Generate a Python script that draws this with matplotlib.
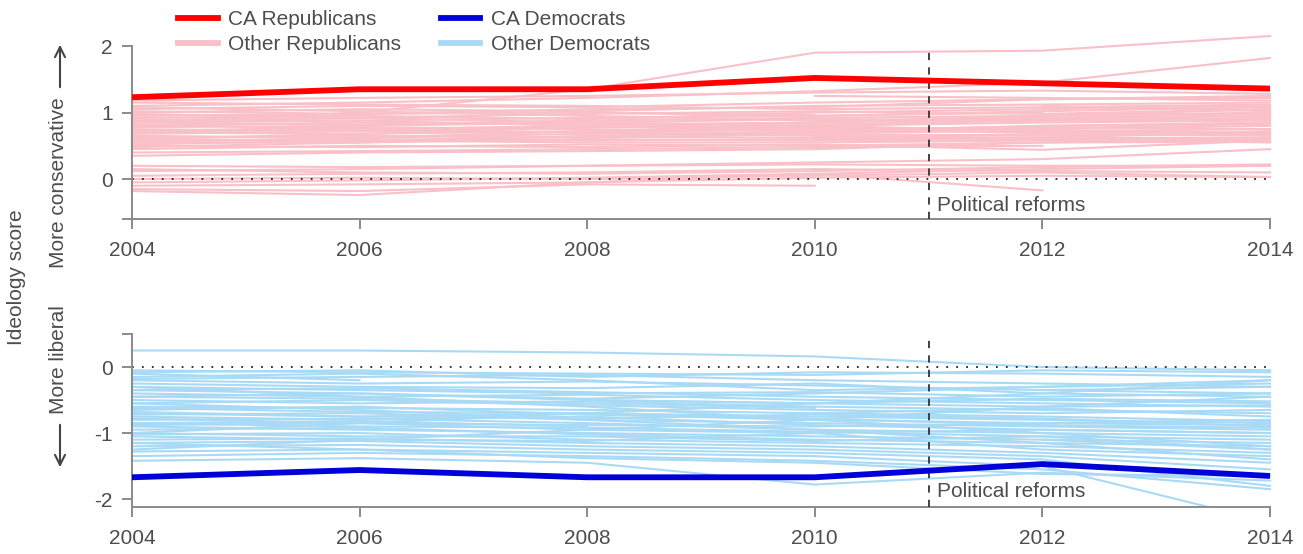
import numpy as np
import matplotlib
matplotlib.use("Agg")
import matplotlib.pyplot as plt
from matplotlib.lines import Line2D

nan = np.nan
years = [2004, 2006, 2008, 2010, 2012, 2014]
reform_year = 2011

# California delegation averages
ca_rep = [1.23, 1.35, 1.35, 1.52, 1.44, 1.36]
ca_dem = [-1.67, -1.56, -1.67, -1.67, -1.47, -1.65]

# other state delegations, one row per state (nan = no data that year)
other_rep = [
    [1.18, 1.22, 1.25, 1.30, 1.33, 1.28],
    [1.10, 1.15, 1.22, 1.32, 1.45, 1.82],
    [0.85, 1.00, 1.35, 1.90, 1.93, 2.15],
    [1.05, 1.10, 1.08, 1.15, 1.20, 1.25],
    [1.00, 1.05, 1.02, 1.10, 1.12, 1.15],
    [0.95, 0.98, 1.05, 1.08, 1.20, 1.22],
    [0.92, 0.95, 0.90, 1.00, 1.05, 1.10],
    [0.88, 0.92, 0.98, 1.02, 0.98, 1.05],
    [0.85, 0.82, 0.88, 0.92, 0.95, 1.00],
    [0.80, 0.85, 0.82, 0.85, 0.90, 0.95],
    [0.78, 0.80, 0.85, 0.90, 0.88, 0.92],
    [0.75, 0.72, 0.78, 0.80, 0.85, 0.88],
    [0.72, 0.78, 0.75, 0.72, 0.80, 0.82],
    [0.70, 0.68, 0.72, 0.78, 0.75, 0.80],
    [0.68, 0.72, 0.70, 0.75, 0.78, 0.75],
    [0.65, 0.62, 0.68, 0.70, 0.72, 0.70],
    [0.62, 0.65, 0.62, 0.68, 0.65, 0.68],
    [0.60, 0.58, 0.64, 0.62, 0.68, 0.65],
    [0.58, 0.60, 0.58, 0.60, 0.62, 0.62],
    [0.55, 0.55, 0.60, 0.58, 0.60, 0.60],
    [0.52, 0.58, 0.55, 0.55, 0.58, 0.58],
    [0.50, 0.48, 0.52, 0.50, 0.55, 0.56],
    [0.45, 0.50, 0.48, 0.52, 0.44, 0.58],
    [0.40, 0.42, 0.45, 0.48, 0.50, nan],
    [0.35, 0.40, 0.42, 0.45, 0.55, 0.60],
    [1.08, 1.02, 0.95, 0.88, 0.92, 0.98],
    [0.98, 0.92, 0.85, 0.80, 0.72, 0.75],
    [0.90, 0.88, 0.80, 0.75, 0.70, 0.68],
    [0.82, 0.75, 0.70, 0.65, 0.62, 0.72],
    [0.60, 0.68, 0.78, 0.85, 0.95, 1.05],
    [0.55, 0.62, 0.72, 0.82, 0.88, 0.90],
    [0.48, 0.55, 0.65, 0.70, 0.80, 0.85],
    [1.15, 1.12, 1.10, 1.05, 1.08, 1.12],
    [nan, nan, 1.00, 0.95, 1.02, 1.08],
    [nan, nan, nan, 1.25, 1.22, 1.18],
    [nan, nan, nan, 0.65, 0.60, 0.55],
    [nan, nan, nan, nan, 0.75, 0.85],
    [nan, nan, nan, nan, 1.10, 1.02],
    [1.02, 0.98, 1.00, 0.96, nan, nan],
    [0.70, 0.75, 0.80, nan, nan, nan],
    [0.85, 0.88, 0.92, 0.95, 1.00, nan],
    [0.20, 0.18, 0.20, 0.22, 0.20, 0.20],
    [0.12, 0.15, 0.20, 0.25, 0.30, 0.45],
    [0.05, 0.08, 0.10, 0.15, 0.12, 0.10],
    [-0.05, -0.02, 0.02, 0.08, 0.15, 0.20],
    [-0.10, -0.08, -0.05, 0.08, -0.17, nan],
    [-0.15, -0.18, -0.08, -0.10, nan, nan],
    [-0.18, -0.24, -0.05, 0.02, 0.05, 0.03],
    [0.00, 0.02, 0.00, 0.05, 0.10, 0.03],
    [0.15, 0.10, 0.08, 0.12, 0.18, 0.22],
]

other_dem = [
    [0.25, 0.25, 0.22, 0.16, 0.00, -0.05],
    [-0.05, -0.08, -0.10, -0.12, -0.05, -0.08],
    [-0.08, -0.05, -0.15, -0.08, -0.10, -0.15],
    [-0.10, -0.20, nan, nan, nan, nan],
    [-0.15, -0.10, -0.20, -0.35, -0.30, -0.25],
    [-0.20, -0.25, -0.22, -0.28, -0.35, -0.30],
    [-0.25, -0.30, -0.32, -0.25, -0.40, -0.45],
    [-0.30, -0.35, -0.40, -0.38, -0.45, -0.40],
    [-0.35, -0.32, -0.38, -0.45, -0.50, -0.55],
    [-0.40, -0.45, -0.42, -0.50, -0.55, -0.60],
    [-0.45, -0.40, -0.50, -0.55, -0.48, -0.52],
    [-0.50, -0.55, -0.52, -0.60, -0.65, -0.70],
    [-0.55, -0.50, -0.58, -0.65, -0.70, -0.65],
    [-0.60, -0.62, -0.65, -0.70, -0.62, -0.75],
    [-0.62, -0.68, -0.70, -0.75, -0.80, -0.85],
    [-0.65, -0.60, -0.72, -0.80, -0.85, -0.80],
    [-0.70, -0.75, -0.78, -0.72, -0.78, -0.90],
    [-0.72, -0.70, -0.80, -0.85, -0.90, -0.95],
    [-0.75, -0.80, -0.75, -0.88, -0.95, -1.00],
    [-0.78, -0.85, -0.88, -0.90, -0.85, -0.88],
    [-0.80, -0.78, -0.85, -0.95, -1.00, -1.05],
    [-0.85, -0.90, -0.92, -0.98, -1.05, -1.10],
    [-0.88, -0.85, -0.95, -1.00, -0.95, -1.00],
    [-0.90, -0.95, -1.00, -1.05, -1.10, -1.15],
    [-0.95, -0.92, -1.02, -1.10, -1.15, -1.20],
    [-1.00, -1.05, -1.05, -1.12, -1.05, -1.25],
    [-1.02, -1.00, -1.10, -1.15, -1.20, -1.30],
    [-1.05, -1.10, -1.12, -1.00, -1.25, -1.35],
    [-1.10, -1.08, -1.15, -1.20, -1.30, -1.45],
    [-1.15, -1.12, -1.20, -1.25, -1.35, -1.55],
    [-1.20, -1.18, -1.25, -1.30, -1.40, -1.80],
    [-1.28, -1.25, -1.30, -1.35, -1.50, -2.35],
    [-1.35, -1.30, -1.35, -1.42, -1.55, -1.85],
    [-1.42, -1.38, -1.45, -1.78, -1.60, -1.72],
    [-0.30, -0.45, -0.60, -0.80, -1.00, -1.20],
    [-1.00, -0.85, -0.70, -0.55, -0.40, -0.20],
    [-0.55, -0.65, -0.80, -0.95, -1.15, -1.40],
    [-1.25, -1.10, -0.95, -0.80, -0.60, -0.45],
    [-0.18, -0.15, -0.12, -0.20, -0.25, -0.30],
    [nan, nan, -0.50, -0.55, -0.60, -0.58],
    [nan, nan, nan, -0.70, -0.75, -0.82],
    [nan, nan, nan, nan, -0.35, -0.40],
    [nan, nan, nan, nan, -1.10, -1.25],
    [-0.45, -0.48, -0.55, -0.62, nan, nan],
    [-0.85, -0.82, -0.90, nan, nan, nan],
    [-1.15, -1.25, -1.38, -1.45, -1.62, -1.65],
    [-0.68, -0.75, -0.70, -0.78, -0.88, -0.92],
    [-0.35, -0.40, -0.48, -0.40, -0.30, -0.20],
]

RED, PINK = "#ff0000", "#f9c0c8"
BLUE, LBLUE = "#0000d8", "#a9daf5"
TXT, AXC = "#4d4d4d", "#8a8a8a"

plt.rcParams["font.family"] = ["Liberation Sans", "DejaVu Sans"]
W, H = 1303, 554
fig = plt.figure(figsize=(W / 100, H / 100), dpi=100)


def px_axes(left, top, right, bottom):
    return fig.add_axes([left / W, 1 - bottom / H, (right - left) / W, (bottom - top) / H])


def style(ax, ylim, yticks, ylabels, ybounds):
    ax.set_xlim(2003.98, 2014.02)
    ax.set_ylim(*ylim)
    ax.patch.set_visible(False)
    for s in ["top", "right"]:
        ax.spines[s].set_visible(False)
    ax.spines["left"].set_position(("data", 2004))
    ax.spines["left"].set_bounds(*ybounds)
    ax.spines["bottom"].set_bounds(2004, 2014)
    for s in ["left", "bottom"]:
        ax.spines[s].set_color(AXC)
        ax.spines[s].set_linewidth(1.4)
    ax.set_xticks(range(2004, 2015, 2))
    ax.set_yticks(yticks)
    ax.set_yticklabels(ylabels)
    ax.tick_params(direction="out", length=7, width=1.4, colors=AXC,
                   labelcolor=TXT, labelsize=15)
    ax.tick_params(axis="x", pad=9)
    ax.tick_params(axis="y", pad=7)


def panel(ax, others, thin_color, ca, ca_color, dash_top, label_y):
    for row in others:
        ax.plot(years, row, color=thin_color, lw=1.5, zorder=1)
    ax.plot([2004, 2014], [0, 0], color="#222222", lw=1.3, ls=(0, (1, 4.5)), zorder=2)
    ax.plot([reform_year, reform_year], [ax.get_ylim()[0], dash_top],
            color="#333333", lw=1.3, ls=(0, (4, 4)), zorder=3, clip_on=False)
    ax.plot(years, ca, color=ca_color, lw=4.2, zorder=4, solid_capstyle="butt")
    ax.text(reform_year + 0.07, label_y, "Political reforms", fontsize=15,
            color=TXT, va="center", ha="left")


# Republicans
ax1 = px_axes(129.7, 32.7, 1272.3, 219)
style(ax1, (-0.6, 2.2), [-0.6, 0, 1, 2], ["", "0", "1", "2"], (-0.6, 2))
panel(ax1, other_rep, PINK, ca_rep, RED, 1.91, -0.39)

# Democrats
ax2 = px_axes(129.7, 330.7, 1272.3, 507)
style(ax2, (-2.12, 0.55), [0.5, 0, -1, -2], ["", "0", "-1", "-2"], (-2.12, 0.5))
panel(ax2, other_dem, LBLUE, ca_dem, BLUE, 0.41, -1.89)

# legend across the top
handles = [Line2D([], [], color=RED, lw=4.2), Line2D([], [], color=PINK, lw=4.2),
           Line2D([], [], color=BLUE, lw=4.2), Line2D([], [], color=LBLUE, lw=4.2)]
labels = ["CA Republicans", "Other Republicans", "CA Democrats", "Other Democrats"]
leg = fig.legend(handles, labels, ncol=2, loc="upper left",
                 bbox_to_anchor=(178 / W, 1 - 10 / H), frameon=False, fontsize=15,
                 handlelength=1.9, handletextpad=0.5, columnspacing=1.9,
                 labelspacing=0.3, borderpad=0, borderaxespad=0)
for t in leg.get_texts():
    t.set_color(TXT)

# side labels
fig.text(17 / W, 1 - 277 / H, "Ideology score", rotation=90, fontsize=15,
         color=TXT, ha="center", va="center")
fig.text(59 / W, 1 - 183 / H, "More conservative", rotation=90, fontsize=15,
         color=TXT, ha="center", va="center")
fig.text(59 / W, 1 - 360 / H, "More liberal", rotation=90, fontsize=15,
         color=TXT, ha="center", va="center")
arrow = dict(arrowstyle="->", color="#444444", lw=1.5, mutation_scale=18)
fig.add_artist(plt.Annotation("", xy=(60 / W, 1 - 42 / H), xytext=(60 / W, 1 - 90 / H),
                              xycoords="figure fraction", arrowprops=arrow))
fig.add_artist(plt.Annotation("", xy=(60 / W, 1 - 470 / H), xytext=(60 / W, 1 - 422 / H),
                              xycoords="figure fraction", arrowprops=arrow))

fig.savefig("out.png", dpi=100)
